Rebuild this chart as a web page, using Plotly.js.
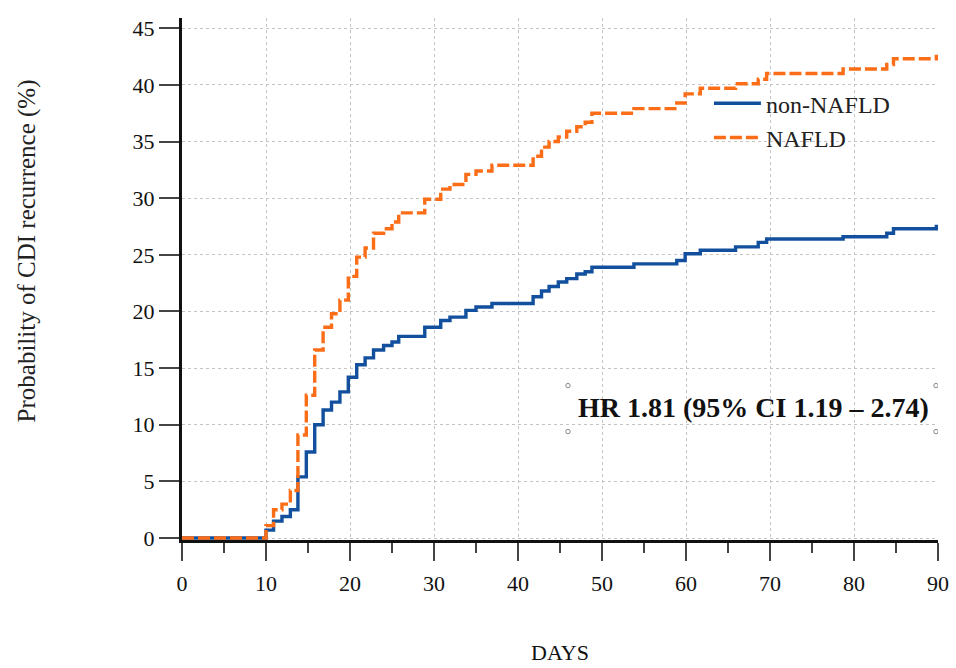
<!DOCTYPE html>
<html>
<head>
<meta charset="utf-8">
<script src="https://cdn.plot.ly/plotly-3.0.1.min.js"></script>
<style>html,body{margin:0;padding:0;background:#fff;}#chart{width:956px;height:668px;}</style>
</head>
<body>
<div id="chart"></div>
<script>
// Event times (days) shared by both Kaplan-Meier style curves
const days = [0, 10, 10.9, 11.9, 12.9, 13.8, 14.8, 15.8, 16.8, 17.8, 18.8, 19.8, 20.8, 21.8, 22.8, 24.0, 25.0, 25.8, 28.9, 30.8, 31.9, 33.8, 35.0, 36.9, 41.8, 42.8, 43.7, 44.8, 45.8, 47.0, 48.0, 48.8, 53.8, 58.9, 59.9, 61.7, 65.9, 68.6, 69.6, 78.7, 83.9, 84.7, 89.8, 90];
// Cumulative probability of CDI recurrence (%)
const nonNafld = [0, 0.7, 1.5, 1.9, 2.5, 5.4, 7.6, 10.0, 11.3, 12.0, 12.9, 14.2, 15.3, 15.9, 16.6, 17.0, 17.3, 17.8, 18.6, 19.2, 19.5, 20.1, 20.4, 20.7, 21.3, 21.8, 22.2, 22.6, 22.9, 23.3, 23.5, 23.9, 24.2, 24.5, 25.1, 25.4, 25.7, 26.1, 26.4, 26.6, 26.9, 27.3, 27.5, 27.5];
const nafld = [0, 1.1, 2.5, 3.0, 4.2, 9.1, 12.6, 16.6, 18.6, 19.8, 21.0, 23.1, 24.8, 25.6, 26.9, 27.3, 27.9, 28.7, 29.9, 30.8, 31.2, 32.1, 32.4, 32.9, 33.7, 34.5, 35.0, 35.4, 35.9, 36.3, 36.7, 37.5, 37.9, 38.4, 39.2, 39.7, 40.1, 40.5, 41.0, 41.4, 41.8, 42.3, 42.5, 42.5];
const seriesNames = ["non-NAFLD", "NAFLD"];
const xTickVals = [0, 10, 20, 30, 40, 50, 60, 70, 80, 90];
const yTickVals = [0, 5, 10, 15, 20, 25, 30, 35, 40, 45];
const hrText = "HR 1.81 (95% CI 1.19 – 2.74)";

const serif = "Liberation Serif";
const blue = "#12509e";
const orange = "#fb6d16";

const traces = [
  {x: days, y: nonNafld, name: seriesNames[0], type: "scatter", mode: "lines",
   line: {shape: "hv", color: blue, width: 3.4}, legendgroup: "a"},
  {x: days, y: nafld, name: seriesNames[1], type: "scatter", mode: "lines",
   line: {shape: "hv", color: orange, width: 3.4, dash: "12px,4px"}, legendgroup: "b"}
];

// small text-box handle circles around the HR label
const handleX = [45.95, 89.76];
const handleY = [13.46, 9.40];
const shapes = [];
handleX.forEach(hx => handleY.forEach(hy => {
  shapes.push({type: "circle", xref: "x", yref: "y", xsizemode: "pixel", ysizemode: "pixel",
    xanchor: hx, yanchor: hy, x0: -2.2, x1: 2.2, y0: -2.2, y1: 2.2,
    line: {color: "#888", width: 1}, fillcolor: "#fff"});
}));

const layout = {
  width: 956, height: 668,
  margin: {l: 182, r: 18, t: 18, b: 128},
  paper_bgcolor: "#fff", plot_bgcolor: "#fff",
  font: {family: serif, color: "#111", size: 22},
  showlegend: true,
  legend: {x: 0.697, y: 0.879, xanchor: "left", yanchor: "top", bgcolor: "rgba(0,0,0,0)",
    font: {family: serif, size: 24, color: "#222"}, itemwidth: 47, tracegroupgap: 0,
    traceorder: "grouped"},
  xaxis: {
    range: [0, 90], tickvals: xTickVals, ticks: "outside", ticklen: 18, tickwidth: 2, tickcolor: "#444",
    showline: true, linecolor: "#111", linewidth: 3,
    showgrid: true, gridcolor: "#c4c4c4", gridwidth: 1, griddash: "dot",
    zeroline: false, layer: "below traces",
    minor: {dtick: 5, ticks: "outside", ticklen: 10, tickwidth: 2, tickcolor: "#444", showgrid: false},
    tickfont: {family: serif, size: 22, color: "#111"}, ticklabelstandoff: 4,
    title: {text: "DAYS", font: {family: serif, size: 22, color: "#111"}, standoff: 50}
  },
  yaxis: {
    range: [-0.17, 45.9], tickvals: yTickVals, ticks: "outside", ticklen: 20, tickwidth: 2, tickcolor: "#444",
    showline: true, linecolor: "#111", linewidth: 3,
    showgrid: true, gridcolor: "#c4c4c4", gridwidth: 1, griddash: "dot",
    zeroline: false, layer: "below traces",
    tickfont: {family: serif, size: 22, color: "#111"}
  },
  shapes: shapes,
  annotations: [
    {text: "Probability of CDI recurrence (%)", xref: "paper", yref: "y", x: -0.205, y: 25.3,
     textangle: -90, showarrow: false, xanchor: "center", yanchor: "middle",
     font: {family: serif, size: 25, color: "#222"}},
    {text: "<b>" + hrText + "</b>", xref: "x", yref: "y", x: 68.0, y: 11.5, showarrow: false,
     xanchor: "center", yanchor: "middle", font: {family: serif, size: 28, color: "#111"}}
  ]
};

Plotly.newPlot("chart", traces, layout, {staticPlot: true, displayModeBar: false});
</script>
</body>
</html>
